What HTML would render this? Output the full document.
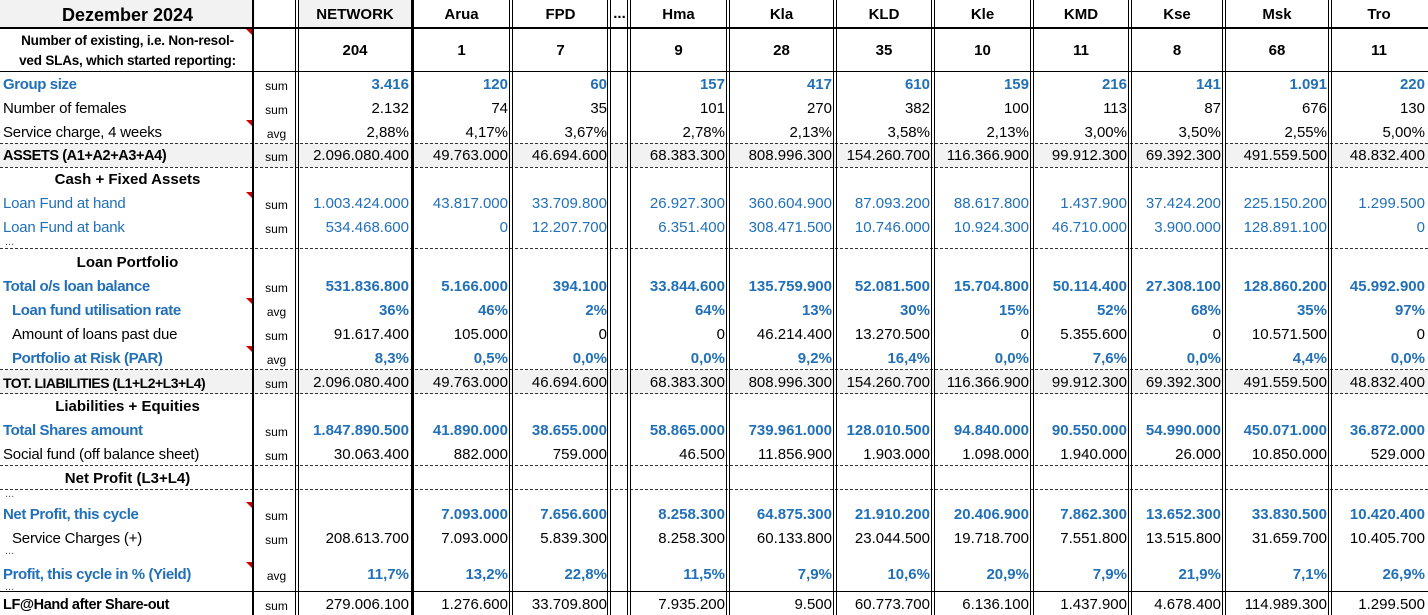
<!DOCTYPE html>
<html><head><meta charset="utf-8"><style>
html,body{margin:0;padding:0;background:#fff;}
body{width:1428px;height:615px;position:relative;overflow:hidden;font-family:"Liberation Sans",Arial,sans-serif;font-size:15px;color:#000;}
table{position:absolute;left:0;top:0;border-collapse:collapse;table-layout:fixed;width:1428px;}
td{padding:0 3px;white-space:nowrap;overflow:hidden;text-align:right;line-height:16px;padding-top:2px;}
td.l{text-align:left;letter-spacing:-0.2px;}
td.s{text-align:center;font-size:12px;padding-top:4px;}
tr.b td{font-weight:bold;}
tr.bl td{color:#2170b8;}
tr.g td{background:#f2f2f2;}
tr.b td.l{font-size:15px;letter-spacing:-0.4px;}
td.c{text-align:center!important;}
.v{position:absolute;top:0;height:615px;background:#000;}
.h{position:absolute;left:0;width:1428px;height:1px;}
.sol{background:#000;}
.dash{border-top:1px dashed #333;height:0;}
.dots{position:absolute;left:5px;font-size:11px;line-height:8px;color:#555;}
.tri{position:absolute;left:246px;width:0;height:0;border-top:6px solid #c00;border-left:6px solid transparent;}
</style></head><body>
<table>
<colgroup><col style="width:255px"><col style="width:43px"><col style="width:114px"><col style="width:99px"><col style="width:99px"><col style="width:19px"><col style="width:99px"><col style="width:107px"><col style="width:98px"><col style="width:99px"><col style="width:98px"><col style="width:94px"><col style="width:106px"><col style="width:98px"></colgroup>
<tr style="height:28px" class="b"><td class="c" style="font-size:18px;background:#f2f2f2">Dezember 2024</td><td></td><td class="c" style="background:#f2f2f2">NETWORK</td><td class="c">Arua</td><td class="c">FPD</td><td class="c" style="padding:0">...</td><td class="c">Hma</td><td class="c">Kla</td><td class="c">KLD</td><td class="c">Kle</td><td class="c">KMD</td><td class="c">Kse</td><td class="c">Msk</td><td class="c">Tro</td></tr>
<tr style="height:44px" class="b"><td class="c" style="font-size:13.5px;line-height:20px;letter-spacing:-0.2px">Number of existing, i.e. Non-resol-<br>ved SLAs, which started reporting:</td><td></td><td class="c">204</td><td class="c">1</td><td class="c">7</td><td></td><td class="c">9</td><td class="c">28</td><td class="c">35</td><td class="c">10</td><td class="c">11</td><td class="c">8</td><td class="c">68</td><td class="c">11</td></tr>
<tr style="height:24px" class="b bl"><td class="l">Group size</td><td class="s" style="font-weight:normal;color:#000">sum</td><td>3.416</td><td>120</td><td>60</td><td></td><td>157</td><td>417</td><td>610</td><td>159</td><td>216</td><td>141</td><td>1.091</td><td>220</td></tr>
<tr style="height:24px"><td class="l">Number of females</td><td class="s">sum</td><td>2.132</td><td>74</td><td>35</td><td></td><td>101</td><td>270</td><td>382</td><td>100</td><td>113</td><td>87</td><td>676</td><td>130</td></tr>
<tr style="height:23px"><td class="l">Service charge, 4 weeks</td><td class="s">avg</td><td>2,88%</td><td>4,17%</td><td>3,67%</td><td></td><td>2,78%</td><td>2,13%</td><td>3,58%</td><td>2,13%</td><td>3,00%</td><td>3,50%</td><td>2,55%</td><td>5,00%</td></tr>
<tr style="height:24px" class="g"><td class="l" style="font-weight:bold;font-size:14.5px;letter-spacing:-0.4px">ASSETS (A1+A2+A3+A4)</td><td class="s">sum</td><td>2.096.080.400</td><td>49.763.000</td><td>46.694.600</td><td></td><td>68.383.300</td><td>808.996.300</td><td>154.260.700</td><td>116.366.900</td><td>99.912.300</td><td>69.392.300</td><td>491.559.500</td><td>48.832.400</td></tr>
<tr style="height:24px" class="b"><td class="c">Cash + Fixed Assets</td><td></td><td></td><td></td><td></td><td></td><td></td><td></td><td></td><td></td><td></td><td></td><td></td><td></td></tr>
<tr style="height:24px" class="bl"><td class="l">Loan Fund at hand</td><td class="s" style="color:#000">sum</td><td>1.003.424.000</td><td>43.817.000</td><td>33.709.800</td><td></td><td>26.927.300</td><td>360.604.900</td><td>87.093.200</td><td>88.617.800</td><td>1.437.900</td><td>37.424.200</td><td>225.150.200</td><td>1.299.500</td></tr>
<tr style="height:24px" class="bl"><td class="l">Loan Fund at bank</td><td class="s" style="color:#000">sum</td><td>534.468.600</td><td>0</td><td>12.207.700</td><td></td><td>6.351.400</td><td>308.471.500</td><td>10.746.000</td><td>10.924.300</td><td>46.710.000</td><td>3.900.000</td><td>128.891.100</td><td>0</td></tr>
<tr style="height:10px"><td colspan="14"></td></tr>
<tr style="height:25px" class="b"><td class="c">Loan Portfolio</td><td></td><td></td><td></td><td></td><td></td><td></td><td></td><td></td><td></td><td></td><td></td><td></td><td></td></tr>
<tr style="height:24px" class="b bl"><td class="l">Total o/s loan balance</td><td class="s" style="font-weight:normal;color:#000">sum</td><td>531.836.800</td><td>5.166.000</td><td>394.100</td><td></td><td>33.844.600</td><td>135.759.900</td><td>52.081.500</td><td>15.704.800</td><td>50.114.400</td><td>27.308.100</td><td>128.860.200</td><td>45.992.900</td></tr>
<tr style="height:24px" class="b bl"><td class="l" style="padding-left:12px">Loan fund utilisation rate</td><td class="s" style="font-weight:normal;color:#000">avg</td><td>36%</td><td>46%</td><td>2%</td><td></td><td>64%</td><td>13%</td><td>30%</td><td>15%</td><td>52%</td><td>68%</td><td>35%</td><td>97%</td></tr>
<tr style="height:24px"><td class="l" style="padding-left:12px">Amount of loans past due</td><td class="s">sum</td><td>91.617.400</td><td>105.000</td><td>0</td><td></td><td>0</td><td>46.214.400</td><td>13.270.500</td><td>0</td><td>5.355.600</td><td>0</td><td>10.571.500</td><td>0</td></tr>
<tr style="height:24px" class="b bl"><td class="l" style="padding-left:12px">Portfolio at Risk (PAR)</td><td class="s" style="font-weight:normal;color:#000">avg</td><td>8,3%</td><td>0,5%</td><td>0,0%</td><td></td><td>0,0%</td><td>9,2%</td><td>16,4%</td><td>0,0%</td><td>7,6%</td><td>0,0%</td><td>4,4%</td><td>0,0%</td></tr>
<tr style="height:24px" class="g"><td class="l" style="font-weight:bold;font-size:14px;letter-spacing:-0.5px">TOT. LIABILITIES (L1+L2+L3+L4)</td><td class="s">sum</td><td>2.096.080.400</td><td>49.763.000</td><td>46.694.600</td><td></td><td>68.383.300</td><td>808.996.300</td><td>154.260.700</td><td>116.366.900</td><td>99.912.300</td><td>69.392.300</td><td>491.559.500</td><td>48.832.400</td></tr>
<tr style="height:24px" class="b"><td class="c">Liabilities + Equities</td><td></td><td></td><td></td><td></td><td></td><td></td><td></td><td></td><td></td><td></td><td></td><td></td><td></td></tr>
<tr style="height:24px" class="b bl"><td class="l">Total Shares amount</td><td class="s" style="font-weight:normal;color:#000">sum</td><td>1.847.890.500</td><td>41.890.000</td><td>38.655.000</td><td></td><td>58.865.000</td><td>739.961.000</td><td>128.010.500</td><td>94.840.000</td><td>90.550.000</td><td>54.990.000</td><td>450.071.000</td><td>36.872.000</td></tr>
<tr style="height:24px"><td class="l">Social fund (off balance sheet)</td><td class="s">sum</td><td>30.063.400</td><td>882.000</td><td>759.000</td><td></td><td>46.500</td><td>11.856.900</td><td>1.903.000</td><td>1.098.000</td><td>1.940.000</td><td>26.000</td><td>10.850.000</td><td>529.000</td></tr>
<tr style="height:23px" class="b"><td class="c">Net Profit (L3+L4)</td><td></td><td></td><td></td><td></td><td></td><td></td><td></td><td></td><td></td><td></td><td></td><td></td><td></td></tr>
<tr style="height:13px"><td colspan="14"></td></tr>
<tr style="height:24px" class="b bl"><td class="l">Net Profit, this cycle</td><td class="s" style="font-weight:normal;color:#000">sum</td><td></td><td>7.093.000</td><td>7.656.600</td><td></td><td>8.258.300</td><td>64.875.300</td><td>21.910.200</td><td>20.406.900</td><td>7.862.300</td><td>13.652.300</td><td>33.830.500</td><td>10.420.400</td></tr>
<tr style="height:24px"><td class="l" style="padding-left:12px">Service Charges (+)</td><td class="s">sum</td><td>208.613.700</td><td>7.093.000</td><td>5.839.300</td><td></td><td>8.258.300</td><td>60.133.800</td><td>23.044.500</td><td>19.718.700</td><td>7.551.800</td><td>13.515.800</td><td>31.659.700</td><td>10.405.700</td></tr>
<tr style="height:12px"><td colspan="14"></td></tr>
<tr style="height:24px" class="b bl"><td class="l">Profit, this cycle in % (Yield)</td><td class="s" style="font-weight:normal;color:#000">avg</td><td>11,7%</td><td>13,2%</td><td>22,8%</td><td></td><td>11,5%</td><td>7,9%</td><td>10,6%</td><td>20,9%</td><td>7,9%</td><td>21,9%</td><td>7,1%</td><td>26,9%</td></tr>
<tr style="height:6px"><td colspan="14"></td></tr>
<tr style="height:23px"><td class="l" style="font-weight:bold;font-size:14.5px;letter-spacing:-0.4px">LF@Hand after Share-out</td><td class="s">sum</td><td>279.006.100</td><td>1.276.600</td><td>33.709.800</td><td></td><td>7.935.200</td><td>9.500</td><td>60.773.700</td><td>6.136.100</td><td>1.437.900</td><td>4.678.400</td><td>114.989.300</td><td>1.299.500</td></tr>
</table>

<div class="h sol" style="top:27px;height:2px"></div>
<div class="h sol" style="top:71px;height:1px"></div>
<div class="h dash" style="top:143px"></div>
<div class="h dash" style="top:167px"></div>
<div class="h dash" style="top:248px"></div>
<div class="h dash" style="top:369px"></div>
<div class="h dash" style="top:393px"></div>
<div class="h dash" style="top:465px"></div>
<div class="h dash" style="top:489px"></div>
<div class="h sol" style="top:591px;height:1px"></div>

<div class="v" style="left:252px;width:2px"></div>
<div class="v" style="left:295px;width:1px"></div><div class="v" style="left:298px;width:1px"></div>
<div class="v" style="left:411px;width:3px"></div>
<div class="v" style="left:509px;width:1px"></div><div class="v" style="left:512px;width:1px"></div>
<div class="v" style="left:607px;width:1px"></div><div class="v" style="left:610px;width:1px"></div>
<div class="v" style="left:627px;width:1px"></div><div class="v" style="left:630px;width:1px"></div>
<div class="v" style="left:726px;width:1px"></div><div class="v" style="left:729px;width:1px"></div>
<div class="v" style="left:833px;width:1px"></div><div class="v" style="left:836px;width:1px"></div>
<div class="v" style="left:931px;width:1px"></div><div class="v" style="left:934px;width:1px"></div>
<div class="v" style="left:1030px;width:1px"></div><div class="v" style="left:1033px;width:1px"></div>
<div class="v" style="left:1128px;width:1px"></div><div class="v" style="left:1131px;width:1px"></div>
<div class="v" style="left:1222px;width:1px"></div><div class="v" style="left:1225px;width:1px"></div>
<div class="v" style="left:1328px;width:1px"></div><div class="v" style="left:1331px;width:1px"></div>

<div class="dots" style="top:238px">...</div>
<div class="dots" style="top:490px">...</div>
<div class="dots" style="top:547px">...</div>
<div class="dots" style="top:583px">...</div>

<div class="tri" style="top:29px"></div>
<div class="tri" style="top:120px"></div>
<div class="tri" style="top:192px"></div>
<div class="tri" style="top:298px"></div>
<div class="tri" style="top:346px"></div>
<div class="tri" style="top:502px"></div>
<div class="tri" style="top:562px"></div>
</body></html>
